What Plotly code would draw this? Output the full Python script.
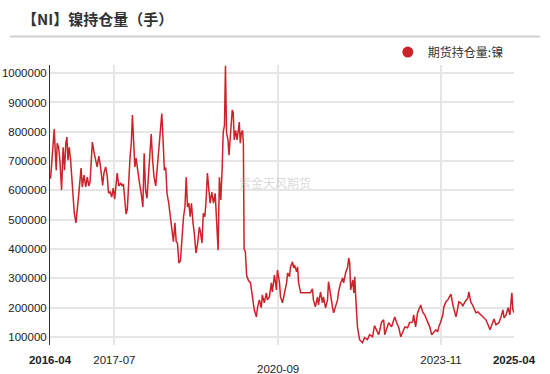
import plotly.graph_objects as go

dates = [
    "2016-04-05", "2016-04-12", "2016-04-19", "2016-05-01", "2016-05-08", "2016-05-15", "2016-05-22",
    "2016-06-01", "2016-06-10", "2016-06-22", "2016-07-03", "2016-07-13", "2016-07-22", "2016-07-30",
    "2016-08-06", "2016-08-15", "2016-08-25", "2016-09-06", "2016-09-20", "2016-10-02", "2016-10-14",
    "2016-10-23", "2016-11-07", "2016-11-16", "2016-11-28", "2016-12-10", "2016-12-21", "2017-01-01",
    "2017-01-10", "2017-01-19", "2017-01-26", "2017-02-08", "2017-02-20", "2017-03-01", "2017-03-13",
    "2017-03-25", "2017-04-09", "2017-04-18", "2017-04-30", "2017-05-11", "2017-05-21", "2017-06-01",
    "2017-06-12", "2017-06-23", "2017-07-03", "2017-07-12", "2017-07-21", "2017-08-01", "2017-08-15",
    "2017-08-24", "2017-09-03", "2017-09-13", "2017-09-22", "2017-10-01", "2017-10-13", "2017-10-20",
    "2017-10-29", "2017-11-06", "2017-11-13", "2017-11-23", "2017-12-02", "2017-12-11", "2017-12-23",
    "2018-01-07", "2018-01-19", "2018-01-28", "2018-02-07", "2018-02-17", "2018-02-28", "2018-03-10",
    "2018-03-19", "2018-03-29", "2018-04-08", "2018-04-20", "2018-05-01", "2018-05-11", "2018-05-22",
    "2018-06-02", "2018-06-11", "2018-06-20", "2018-06-30", "2018-07-09", "2018-07-21", "2018-08-02",
    "2018-08-14", "2018-08-23", "2018-09-03", "2018-09-12", "2018-09-21", "2018-10-01", "2018-10-12",
    "2018-10-24", "2018-11-03", "2018-11-13", "2018-11-22", "2018-12-01", "2018-12-11", "2018-12-20",
    "2018-12-29", "2019-01-09", "2019-01-18", "2019-01-30", "2019-02-11", "2019-02-23", "2019-03-02",
    "2019-03-14", "2019-03-23", "2019-04-03", "2019-04-12", "2019-04-21", "2019-05-01", "2019-05-10",
    "2019-05-22", "2019-06-03", "2019-06-15", "2019-06-24", "2019-07-06", "2019-07-15", "2019-07-25",
    "2019-08-04", "2019-08-11", "2019-08-20", "2019-08-27", "2019-09-04", "2019-09-14", "2019-09-21",
    "2019-09-28", "2019-10-07", "2019-10-14", "2019-10-21", "2019-10-28", "2019-11-07", "2019-11-17",
    "2019-11-26", "2019-12-03", "2019-12-10", "2019-12-17", "2019-12-26", "2020-01-01", "2020-01-06",
    "2020-01-15", "2020-01-24", "2020-02-06", "2020-02-20", "2020-03-04", "2020-03-18", "2020-04-02",
    "2020-04-11", "2020-04-23", "2020-05-07", "2020-05-14", "2020-05-28", "2020-06-12", "2020-06-19",
    "2020-07-03", "2020-07-17", "2020-07-24", "2020-08-08", "2020-08-22", "2020-08-29", "2020-09-13",
    "2020-09-20", "2020-10-04", "2020-10-18", "2020-11-02", "2020-11-09", "2020-11-23", "2020-11-30",
    "2020-12-14", "2020-12-21", "2020-12-28", "2021-01-12", "2021-01-19", "2021-01-26", "2021-02-10",
    "2021-03-15", "2021-04-20", "2021-05-04", "2021-05-11", "2021-05-25", "2021-06-09", "2021-06-16",
    "2021-06-30", "2021-07-14", "2021-07-21", "2021-08-05", "2021-08-19", "2021-08-26", "2021-09-10",
    "2021-09-24", "2021-10-01", "2021-10-15", "2021-10-29", "2021-11-05", "2021-11-20", "2021-12-04",
    "2021-12-11", "2021-12-25", "2022-01-09", "2022-01-16", "2022-01-23", "2022-01-30", "2022-02-14",
    "2022-02-21", "2022-02-28", "2022-03-05", "2022-03-19", "2022-04-03", "2022-04-24", "2022-05-08",
    "2022-05-29", "2022-06-13", "2022-07-04", "2022-07-18", "2022-08-02", "2022-08-16", "2022-09-07",
    "2022-09-21", "2022-09-28", "2022-10-12", "2022-10-26", "2022-11-16", "2022-12-01", "2022-12-08",
    "2022-12-22", "2023-01-06", "2023-01-20", "2023-02-03", "2023-02-18", "2023-03-09", "2023-03-23",
    "2023-04-14", "2023-04-21", "2023-05-05", "2023-05-19", "2023-06-03", "2023-06-10", "2023-06-24",
    "2023-07-08", "2023-07-29", "2023-08-13", "2023-08-27", "2023-09-11", "2023-09-25", "2023-10-09",
    "2023-10-16", "2023-10-30", "2023-11-14", "2023-11-21", "2023-12-05", "2023-12-19", "2023-12-26",
    "2024-01-10", "2024-01-24", "2024-02-01", "2024-02-15", "2024-02-28", "2024-03-06", "2024-03-20",
    "2024-04-04", "2024-04-18", "2024-05-09", "2024-05-16", "2024-05-30", "2024-06-14", "2024-07-05",
    "2024-07-19", "2024-08-10", "2024-08-24", "2024-09-14", "2024-09-29", "2024-10-13", "2024-11-03",
    "2024-11-10", "2024-11-24", "2024-12-15", "2024-12-30", "2025-01-13", "2025-01-20", "2025-02-04",
    "2025-02-18", "2025-03-03", "2025-03-10", "2025-03-17", "2025-03-24", "2025-04-01",
]

open_interest = [
    640000, 680000, 748000, 809000, 737000, 669000, 761000,
    747000, 703000, 601000, 747000, 669000, 761000, 782000,
    703000, 747000, 703000, 611000, 522000, 489000, 543000,
    594000, 676000, 611000, 652000, 612000, 645000, 615000,
    630000, 737000, 765000, 727000, 693000, 680000, 717000,
    680000, 617000, 659000, 680000, 650000, 590000, 595000,
    577000, 608000, 570000, 625000, 659000, 615000, 625000,
    615000, 622000, 567000, 519000, 537000, 658000, 714000,
    761000, 857000, 782000, 680000, 710000, 670000, 635000,
    590000, 543000, 727000, 601000, 573000, 669000, 744000,
    792000, 703000, 645000, 615000, 680000, 747000, 815000,
    862000, 772000, 669000, 678000, 590000, 556000, 510000,
    455000, 425000, 489000, 425000, 420000, 352000, 360000,
    455000, 510000, 543000, 645000, 543000, 556000, 510000,
    556000, 489000, 455000, 386000, 420000, 475000, 460000,
    420000, 522000, 510000, 567000, 659000, 590000, 556000,
    594000, 556000, 590000, 522000, 396000, 645000, 567000,
    680000, 799000, 822000, 1025000, 795000, 772000, 720000,
    772000, 840000, 874000, 865000, 772000, 805000, 772000,
    805000, 833000, 761000, 795000, 805000, 761000, 400000,
    390000, 310000, 292000, 285000, 236000, 192000, 168000,
    202000, 226000, 199000, 243000, 216000, 250000, 226000,
    236000, 284000, 253000, 311000, 260000, 328000, 284000,
    236000, 216000, 250000, 284000, 318000, 305000, 339000,
    356000, 335000, 345000, 322000, 339000, 284000, 250000,
    250000, 250000, 264000, 226000, 202000, 236000, 209000,
    253000, 216000, 236000, 199000, 226000, 288000, 233000,
    199000, 182000, 202000, 226000, 253000, 284000, 301000,
    284000, 318000, 339000, 369000, 352000, 260000, 294000,
    250000, 305000, 250000, 134000, 90000, 80000, 97000,
    90000, 107000, 100000, 138000, 124000, 107000, 151000,
    158000, 107000, 124000, 148000, 134000, 158000, 168000,
    148000, 131000, 100000, 117000, 134000, 131000, 148000,
    151000, 175000, 134000, 182000, 199000, 209000, 185000,
    175000, 151000, 134000, 107000, 114000, 124000, 117000,
    134000, 151000, 175000, 202000, 219000, 226000, 233000,
    246000, 209000, 192000, 168000, 199000, 219000, 216000,
    206000, 219000, 233000, 253000, 219000, 206000, 182000,
    185000, 175000, 168000, 158000, 141000, 124000, 151000,
    161000, 141000, 148000, 168000, 192000, 165000, 175000,
    199000, 175000, 216000, 250000, 192000, 182000,
]

tick_dates = ["2016-04-01", "2017-07-01", "2020-09-01", "2023-11-01", "2025-04-01"]
tick_labels = ["<b>2016-04</b>", "2017-07", "", "2023-11", "<b>2025-04</b>"]
low_tick_date = "2020-09-01"
low_tick_label = "2020-09"
series_name = "期货持仓量:镍"
title_text = "【NI】镍持仓量（手）"
watermark = "紫金天风期货"

RED = "#cc2229"
fig = go.Figure()
fig.add_trace(go.Scatter(
    x=dates, y=open_interest, mode="lines",
    line=dict(color=RED, width=1.5), showlegend=False, name=series_name,
))
fig.add_trace(go.Scatter(
    x=[None], y=[None], mode="markers", name=series_name,
    marker=dict(color=RED, size=11, symbol="circle"), showlegend=True,
))

fig.update_layout(
    width=550, height=374,
    margin=dict(l=50, r=36, t=65, b=29),
    paper_bgcolor="white", plot_bgcolor="white",
    font=dict(family="Liberation Sans, Arial", size=11, color="#333333"),
    title=dict(
        text="<b>" + title_text + "</b>", x=22 / 550, xanchor="left",
        y=1 - 20 / 374, yanchor="middle", xref="container", yref="container",
        font=dict(family="Noto Sans CJK SC", size=15, color="#333333"),
    ),
    legend=dict(
        x=0.728, y=1.046, xanchor="left", yanchor="middle", orientation="h",
        font=dict(family="Noto Sans CJK SC", size=12, color="#333333"),
        bgcolor="rgba(0,0,0,0)", itemwidth=30,
    ),
    xaxis=dict(
        type="date", range=["2016-04-01", "2025-04-01"],
        tickvals=tick_dates, ticktext=tick_labels, automargin=False,
        showgrid=True, gridcolor="#e6e6e6", gridwidth=1.5,
        showline=False, zeroline=False,
        ticks="outside", ticklen=4, tickcolor="rgba(0,0,0,0)",
        tickfont=dict(size=11.5, color="#222222"),
    ),
    yaxis=dict(
        range=[72000, 1028000], dtick=100000, tick0=0, tickformat="d",
        automargin=False,
        showgrid=True, gridcolor="#e6e6e6", gridwidth=1.5,
        showline=True, linecolor="#333333", linewidth=1,
        zeroline=False, ticks="", tickfont=dict(size=11.5, color="#222222"),
    ),
    shapes=[dict(
        type="line", xref="paper", yref="paper",
        x0=-0.086, x1=1.056, y0=1.102, y1=1.102,
        line=dict(color="#d0d0d0", width=2),
    )],
    annotations=[
        dict(
            text=watermark, xref="paper", yref="paper", x=0.485, y=0.579,
            showarrow=False,
            font=dict(family="Noto Sans CJK SC", size=12, color="rgba(170,170,170,0.45)"),
        ),
        dict(
            text=low_tick_label, xref="x", yref="paper", x=low_tick_date, y=-0.0857,
            yanchor="middle", showarrow=False,
            font=dict(family="Liberation Sans, Arial", size=11.5, color="#222222"),
        ),
    ],
)

fig.write_html(
    "out.html",
    config={"displayModeBar": False},
    post_script="document.body.style.margin='0px';",
)
